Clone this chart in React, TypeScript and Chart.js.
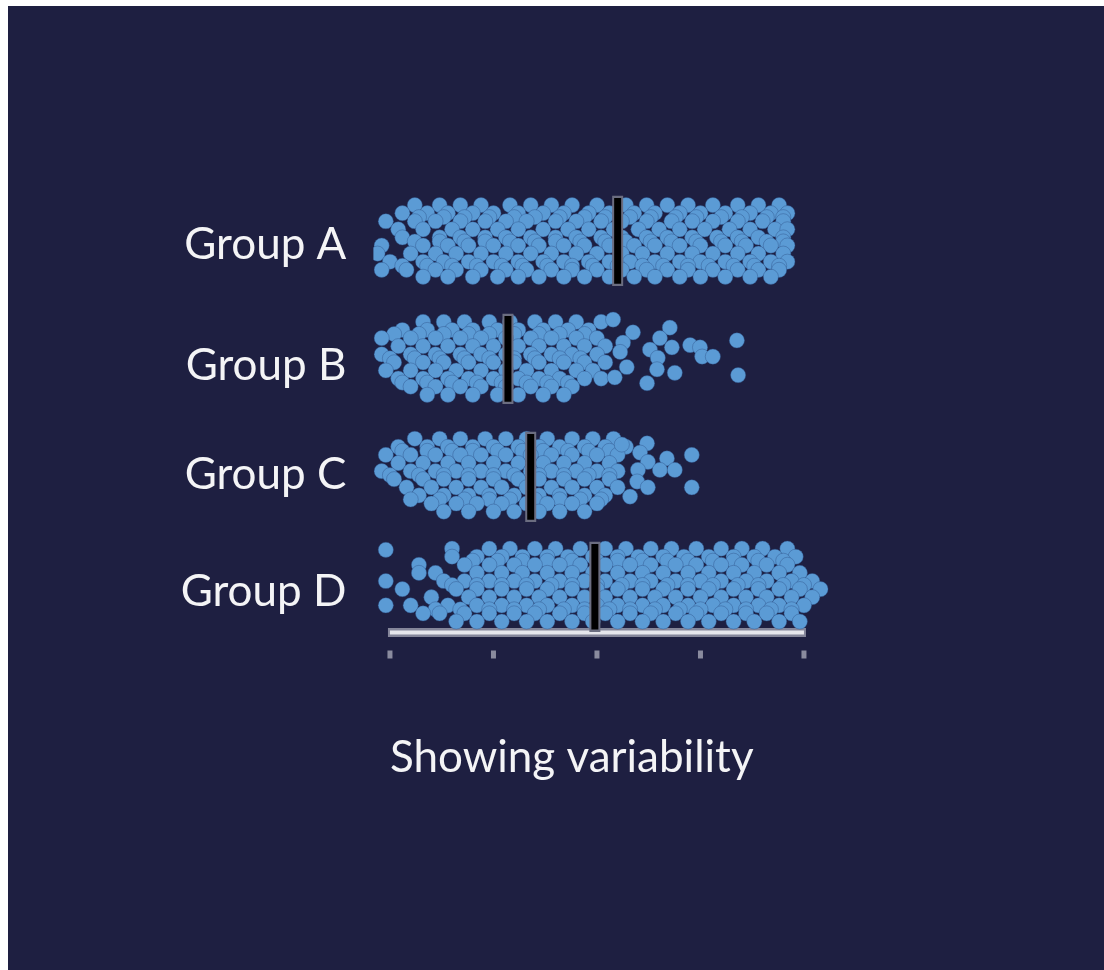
import React, { useEffect, useRef } from "react";
import { Chart, registerables } from "chart.js";

Chart.register(...registerables);

// ---------- data ----------
const groupNames = ["Group A", "Group B", "Group C", "Group D"];
const labelShift = [0.03, 0.08, 0.02, 0.03];
const medians = [55, 28.5, 34, 49.5];
const medianShift = [0, 0.02, 0.04, -0.01];
const axisTicks = [0, 25, 50, 75, 100];
const axisTitle = "Showing variability";

// each row: [vertical jitter (in group units), x values...]
const groupA: number[][] = [
  [-0.31, 6, 12, 17, 22, 29, 34, 39, 44, 50, 57, 62, 67, 72, 78, 84, 89, 94],
  [-0.24, 3, 9, 14, 20, 25, 31, 37, 42, 48, 53, 59, 64, 70, 75, 81, 87, 92, 96],
  [-0.205, 7, 13, 18, 24, 30, 35, 41, 47, 52, 58, 63, 69, 74, 80, 85, 91, 95],
  [-0.17, -1, 6, 11, 17, 23, 28, 33, 40, 45, 51, 56, 62, 68, 73, 78, 84, 90, 95],
  [-0.1, 2, 8, 15, 20, 26, 31, 37, 43, 48, 54, 60, 65, 70, 76, 82, 87, 93, 96],
  [-0.03, 3, 12, 17, 23, 28, 34, 40, 45, 51, 56, 62, 67, 73, 79, 84, 89, 95],
  [0.005, 6, 12, 18, 23, 29, 35, 40, 46, 52, 57, 63, 68, 74, 80, 85, 91, 95],
  [0.04, -2, 8, 14, 19, 25, 31, 36, 42, 47, 53, 59, 64, 70, 75, 81, 86, 92, 96],
  [0.11, -3, 5, 11, 16, 22, 28, 34, 39, 45, 50, 56, 61, 67, 73, 78, 84, 89, 95],
  [0.18, 0, 8, 13, 19, 25, 31, 37, 42, 48, 53, 58, 64, 70, 75, 81, 87, 92, 96],
  [0.215, 3, 9, 15, 21, 27, 32, 38, 44, 49, 55, 61, 66, 72, 77, 83, 88, 94],
  [0.25, -2, 4, 11, 16, 22, 28, 33, 39, 44, 50, 56, 62, 67, 72, 78, 84, 89, 94],
  [0.31, 8, 14, 20, 26, 31, 36, 42, 47, 53, 59, 64, 70, 75, 81, 87, 92],
];

const groupB: number[][] = [
  [-0.3, 8, 13, 18, 24, 29, 35, 40, 45, 51],
  [-0.23, 3, 9, 15, 20, 26, 31, 37, 43, 48],
  [-0.195, 1, 7, 13, 19, 24, 30, 36, 41, 47],
  [-0.16, -2, 5, 11, 17, 22, 28, 34, 39, 45, 50],
  [-0.09, 2, 8, 14, 20, 25, 31, 36, 42, 47, 52],
  [-0.02, -2, 5, 11, 17, 22, 28, 34, 39, 44, 50],
  [0.015, 0, 6, 12, 18, 24, 30, 35, 41, 46],
  [0.05, 1, 8, 13, 19, 25, 30, 36, 42, 47, 52],
  [0.12, -1, 5, 11, 16, 22, 28, 33, 39, 45, 49],
  [0.19, 2, 8, 14, 19, 25, 31, 36, 41, 47, 51],
  [0.225, 3, 9, 15, 21, 27, 33, 38, 43],
  [0.26, 5, 11, 17, 22, 28, 34, 39, 44],
  [0.33, 9, 14, 20, 26, 31, 37, 42],
  [-0.32, 53.9],
  [-0.21, 58.7],
  [-0.25, 67.6],
  [-0.16, 65.2],
  [-0.12, 56.3],
  [-0.1, 72.5],
  [-0.08, 68.1, 74.9],
  [-0.06, 62.8],
  [-0.04, 55.6],
  [0.0, 75.4, 78],
  [0.01, 64.7],
  [0.09, 57.2],
  [0.11, 64.5],
  [0.14, 68.8],
  [0.18, 54.3],
  [0.23, 62.1],
  [-0.14, 83.8],
  [0.16, 84.1],
];

const groupC: number[][] = [
  [-0.29, 6, 12, 17, 23, 28, 33, 38, 44, 49, 54],
  [-0.22, 2, 9, 14, 20, 25, 31, 36, 41, 47, 52, 57],
  [-0.185, 3, 9, 15, 20, 26, 32, 37, 43, 48, 53],
  [-0.15, -1, 5, 11, 17, 22, 28, 34, 39, 44, 50, 55],
  [-0.08, 2, 8, 14, 19, 25, 31, 37, 42, 47, 53],
  [-0.01, -2, 5, 11, 16, 22, 28, 34, 39, 45, 50, 55],
  [0.025, 0, 7, 13, 19, 25, 30, 36, 42, 48, 53],
  [0.06, 1, 8, 13, 19, 25, 31, 36, 42, 47, 53],
  [0.13, 4, 10, 16, 22, 27, 33, 39, 44, 50, 55],
  [0.2, 7, 13, 19, 24, 30, 36, 41, 47, 52],
  [0.235, 5, 12, 18, 24, 29, 35, 41, 46, 51],
  [0.27, 10, 16, 21, 27, 33, 38, 44, 50],
  [0.34, 13, 19, 25, 30, 36, 41, 47],
  [-0.25, 62.1],
  [-0.24, 56],
  [-0.17, 60.4],
  [-0.15, 72.9],
  [-0.12, 66.9],
  [-0.09, 62.3],
  [-0.02, 59.9, 65.2, 68.8],
  [0.08, 59.7],
  [0.13, 62.3, 72.9],
  [0.21, 58],
];

const groupD: number[][] = [
  [-0.34, 15, 24, 29, 35, 40, 46, 52, 57, 63, 68, 74, 80, 85, 90, 96],
  [-0.27, 15, 21, 27, 32, 38, 43, 49, 55, 60, 66, 71, 77, 83, 88, 93, 98],
  [-0.235, 20, 26, 32, 38, 44, 50, 55, 61, 67, 72, 78, 83, 89, 95],
  [-0.2, 7, 18, 24, 30, 35, 41, 46, 52, 58, 63, 69, 74, 80, 85, 91, 96],
  [-0.13, 7, 11, 21, 27, 32, 38, 44, 49, 55, 61, 66, 72, 77, 83, 88, 94, 99],
  [-0.06, -1, 13, 18, 24, 30, 35, 41, 47, 52, 58, 63, 69, 75, 80, 86, 91, 97, 102],
  [-0.025, 15, 21, 27, 33, 39, 44, 50, 56, 61, 67, 72, 78, 84, 89, 95, 100],
  [0.01, 3, 16, 21, 27, 33, 38, 44, 50, 55, 61, 66, 72, 77, 83, 89, 94, 99, 104],
  [0.08, 10, 19, 24, 30, 36, 41, 47, 52, 58, 64, 69, 75, 80, 86, 91, 97, 102],
  [0.15, -1, 5, 14, 21, 27, 33, 38, 44, 50, 55, 61, 66, 72, 78, 83, 89, 94, 100],
  [0.185, 11, 17, 24, 30, 36, 42, 47, 53, 58, 64, 70, 75, 81, 86, 92, 97],
  [0.22, 8, 12, 18, 24, 30, 35, 41, 47, 52, 58, 63, 69, 74, 80, 86, 91, 97],
  [0.29, 16, 21, 27, 33, 38, 44, 49, 55, 61, 66, 72, 77, 83, 88, 94, 99],
  [-0.33, -1],
];

const groups = [groupA, groupB, groupC, groupD];

// ---------- styles ----------
const BG = "#1e1f41";
const POINT = "#5b9bd5";
const TEXT = "#f4f4f6";
const FONT = "Lato, 'Open Sans', sans-serif";

function toPoints(rows: number[][], index: number) {
  const pts: { x: number; y: number }[] = [];
  rows.forEach((row) => {
    const [off, ...xs] = row;
    xs.forEach((x) => pts.push({ x, y: index + off }));
  });
  return pts;
}

const axisPlugin = {
  id: "customAxis",
  beforeDatasetsDraw(chart: any) {
    const { ctx, chartArea, scales } = chart;
    const x = scales.x;
    const y0 = chartArea.bottom;
    const x0 = x.getPixelForValue(axisTicks[0]);
    const x1 = x.getPixelForValue(axisTicks[axisTicks.length - 1]);
    ctx.save();
    ctx.lineCap = "butt";
    ctx.strokeStyle = "#85869a";
    ctx.lineWidth = 9;
    ctx.beginPath();
    ctx.moveTo(x0 - 2, y0);
    ctx.lineTo(x1 + 2, y0);
    ctx.stroke();
    ctx.strokeStyle = "#e6e6ec";
    ctx.lineWidth = 4;
    ctx.beginPath();
    ctx.moveTo(x0, y0);
    ctx.lineTo(x1, y0);
    ctx.stroke();
    ctx.fillStyle = "#8a8b9e";
    axisTicks.forEach((v) => {
      const px = x.getPixelForValue(v);
      ctx.fillRect(px - 2.5, y0 + 18, 5, 8);
    });
    ctx.fillStyle = TEXT;
    ctx.font = `44px ${FONT}`;
    ctx.textAlign = "left";
    ctx.textBaseline = "alphabetic";
    ctx.fillText(axisTitle, x0, y0 + 139.5);
    ctx.restore();
  },
};

export default function App() {
  const canvasRef = useRef<HTMLCanvasElement | null>(null);

  useEffect(() => {
    document.body.style.margin = "0";
    document.body.style.overflow = "hidden";
    const canvas = canvasRef.current;
    if (!canvas) return;

    const pointSets = groups.map((rows, i) => ({
      type: "scatter" as const,
      label: groupNames[i],
      data: toPoints(rows, i),
      backgroundColor: POINT,
      borderColor: "rgba(45,80,135,0.4)",
      borderWidth: 1,
      pointRadius: 7.6,
      pointHoverRadius: 7.6,
      order: 3,
    }));

    const medianOutline = medians.map((m, i) => ({
      type: "scatter" as const,
      label: groupNames[i] + " median outline",
      data: [
        { x: m, y: i + medianShift[i] - 0.39 },
        { x: m, y: i + medianShift[i] + 0.39 },
      ],
      showLine: true,
      borderColor: "#6b6d80",
      borderWidth: 11,
      pointRadius: 0,
      order: 2,
    }));

    const medianLines = medians.map((m, i) => ({
      type: "scatter" as const,
      label: groupNames[i] + " median",
      data: [
        { x: m, y: i + medianShift[i] - 0.37 },
        { x: m, y: i + medianShift[i] + 0.37 },
      ],
      showLine: true,
      borderColor: "#000000",
      borderWidth: 7,
      pointRadius: 0,
      order: 1,
    }));

    const chart = new Chart(canvas, {
      type: "scatter",
      data: { datasets: [...pointSets, ...medianOutline, ...medianLines] as any },
      options: {
        animation: false,
        responsive: false,
        devicePixelRatio: 1,
        layout: { padding: { top: 171.3, bottom: 337.5, left: 0, right: 275.2 } },
        plugins: { legend: { display: false }, tooltip: { enabled: false }, title: { display: false } },
        events: [],
        scales: {
          x: {
            type: "linear",
            min: -4,
            max: 106,
            display: false,
          },
          y: {
            type: "linear",
            reverse: true,
            min: -0.55,
            max: 3.385,
            afterBuildTicks: (s: any) => {
              s.ticks = groupNames.map((_, i) => ({ value: i + labelShift[i] }));
            },
            afterFit: (s: any) => {
              s.width = 365.4;
            },
            grid: { display: false },
            border: { display: false },
            ticks: {
              autoSkip: false,
              callback: (_v: any, idx: number) => groupNames[idx],
              color: TEXT,
              font: { family: FONT, size: 44 },
              crossAlign: "near",
              padding: 19,
            },
          },
        },
      },
      plugins: [axisPlugin],
    });

    return () => chart.destroy();
  }, []);

  return (
    <div
      style={{
        position: "absolute",
        left: 8,
        top: 6,
        width: 1096,
        height: 964,
        background: BG,
        overflow: "hidden",
      }}
    >
      <canvas ref={canvasRef} width={1096} height={964} style={{ display: "block", width: 1096, height: 964 }} />
    </div>
  );
}
